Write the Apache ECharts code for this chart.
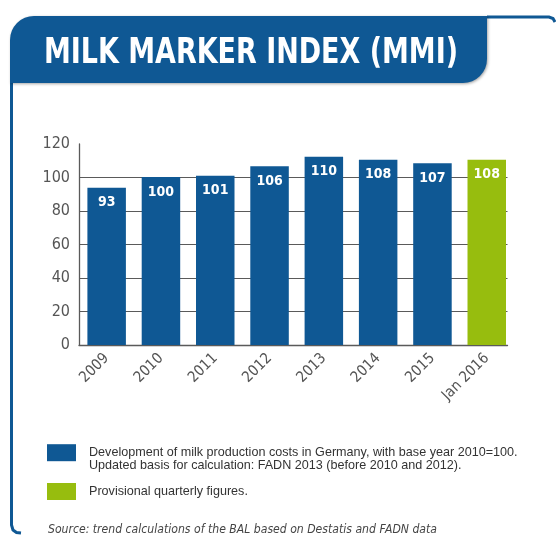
<!DOCTYPE html>
<html><head><meta charset="utf-8">
<script src="https://cdn.jsdelivr.net/npm/echarts@6/dist/echarts.min.js"></script>
<style>html,body{margin:0;padding:0;background:#fff}#c{width:556px;height:541px}</style>
</head><body><div id="c"></div>
<script>
// ---- data ----
const categories = ['2009', '2010', '2011', '2012', '2013', '2014', '2015', 'Jan 2016'];
// bar heights as drawn in the picture
const costIndex = [93.9, 100.3, 101, 106.7, 112.4, 110.6, 108.5, '-'];
const provisionalIndex = ['-', '-', '-', '-', '-', '-', '-', 110.6];
// values printed on the bars
const printedValues = [93, 100, 101, 106, 110, 108, 107, 108];
const yMin = 0, yMax = 120, yStep = 20;

const titleText = 'MILK MARKER INDEX (MMI)';
const seriesCostName = 'Development of milk production costs in Germany, with base year 2010=100.\nUpdated basis for calculation: FADN 2013 (before 2010 and 2012).';
const seriesProvName = 'Provisional quarterly figures.';
const sourceText = 'Source: trend calculations of the BAL based on Destatis and FADN data';

const BLUE = '#0f5894', GREEN = '#97bd0e', GRID = '#5a5a5a', AXT = '#555';
const DIN = '"DejaVu Sans Condensed", "DejaVu Sans", sans-serif';
const ARIAL = '"Liberation Sans", Arial, sans-serif';

function fitScale(text, font, target) {
  const ctx = document.createElement('canvas').getContext('2d');
  ctx.font = font;
  return target / ctx.measureText(text).width;
}
const titleFont = 'bold 36px ' + DIN;
const sourceFont = 'italic 13px ' + DIN;

const chart = echarts.init(document.getElementById('c'), null, {renderer: 'canvas'});
chart.setOption({
  backgroundColor: '#fff',
  animation: false,
  grid: [
    {left: 79, top: 144, width: 428.5, height: 201, containLabel: false},
    {left: 79.5, top: 144, width: 434.4, height: 201, containLabel: false}
  ],
  xAxis: [
    {type: 'category', gridIndex: 0, data: categories, boundaryGap: true,
     axisLine: {show: true, lineStyle: {color: GRID, width: 1.3}},
     axisTick: {show: false}, axisLabel: {show: false}, splitLine: {show: false}},
    {type: 'category', gridIndex: 1, data: categories,
     axisLine: {show: false}, axisTick: {show: false}, splitLine: {show: false},
     axisLabel: {show: true, rotate: 45, margin: 11, color: AXT, fontSize: 15, fontFamily: DIN}}
  ],
  yAxis: [
    {type: 'value', gridIndex: 0, min: yMin, max: yMax, interval: yStep,
     axisLine: {show: true, lineStyle: {color: GRID, width: 1.3}},
     axisTick: {show: false},
     axisLabel: {color: AXT, fontSize: 16, fontFamily: DIN, margin: 9},
     splitLine: {show: true, showMinLine: false, showMaxLine: false, lineStyle: {color: GRID, width: 1.2}}},
    {type: 'value', gridIndex: 1, min: yMin, max: yMax, interval: yStep, show: false,
     splitLine: {show: false}}
  ],
  legend: [
    {left: 47, top: 433.6, padding: 0, orient: 'vertical', selectedMode: false, itemWidth: 29, itemHeight: 17,
     icon: 'rect', itemStyle: {borderWidth: 0},
     formatter: name => '\n' + name,
     textStyle: {fontFamily: ARIAL, fontSize: 12.6, lineHeight: 12.6, color: '#333', padding: [0, 0, 0, 8]},
     data: [{name: seriesCostName}]},
    {left: 47, top: 483, padding: 0, orient: 'vertical', selectedMode: false, itemWidth: 29, itemHeight: 17,
     icon: 'rect', itemStyle: {borderWidth: 0},
     textStyle: {fontFamily: ARIAL, fontSize: 12.6, lineHeight: 12.6, color: '#333', padding: [0, 0, 0, 8]},
     data: [{name: seriesProvName}]}
  ],
  series: [
    {name: seriesCostName, type: 'bar', xAxisIndex: 1, yAxisIndex: 1, data: costIndex,
     barWidth: 38.5, barGap: '-100%', itemStyle: {color: BLUE},
     label: {show: true, position: 'insideTop', distance: 7, color: '#fff', fontWeight: 'bold',
             fontSize: 14, lineHeight: 16, fontFamily: DIN,
             formatter: p => String(printedValues[p.dataIndex])}},
    {name: seriesProvName, type: 'bar', xAxisIndex: 1, yAxisIndex: 1, data: provisionalIndex,
     barWidth: 38.5, barGap: '-100%', itemStyle: {color: GREEN},
     label: {show: true, position: 'insideTop', distance: 7, color: '#fff', fontWeight: 'bold',
             fontSize: 14, lineHeight: 16, fontFamily: DIN,
             formatter: p => String(printedValues[p.dataIndex])}}
  ],
  graphic: [
    {type: 'polyline', shape: {points: [[487, 17], [549, 17], [553, 18.5], [555, 22]]},
     style: {stroke: BLUE, lineWidth: 3, fill: null}},
    {type: 'polyline', shape: {points: [[11.5, 80], [11.5, 525], [13, 530], [16.5, 532.5], [21, 533]]},
     style: {stroke: BLUE, lineWidth: 3, fill: null}},
    {type: 'rect', shape: {x: 10, y: 16, width: 477, height: 67, r: [24, 0, 24, 0]},
     style: {fill: BLUE, shadowColor: 'rgba(0,0,0,0.35)', shadowBlur: 3, shadowOffsetX: 1, shadowOffsetY: 1}},
    {type: 'text', x: 44, y: 54, scaleX: fitScale(titleText, titleFont, 414),
     style: {text: titleText, font: titleFont, fill: '#fff', textVerticalAlign: 'middle', textAlign: 'left'}},
    {type: 'text', x: 48, y: 530, scaleX: fitScale(sourceText, sourceFont, 389),
     style: {text: sourceText, font: sourceFont, fill: '#444', textVerticalAlign: 'middle', textAlign: 'left'}}
  ]
});
</script></body></html>
